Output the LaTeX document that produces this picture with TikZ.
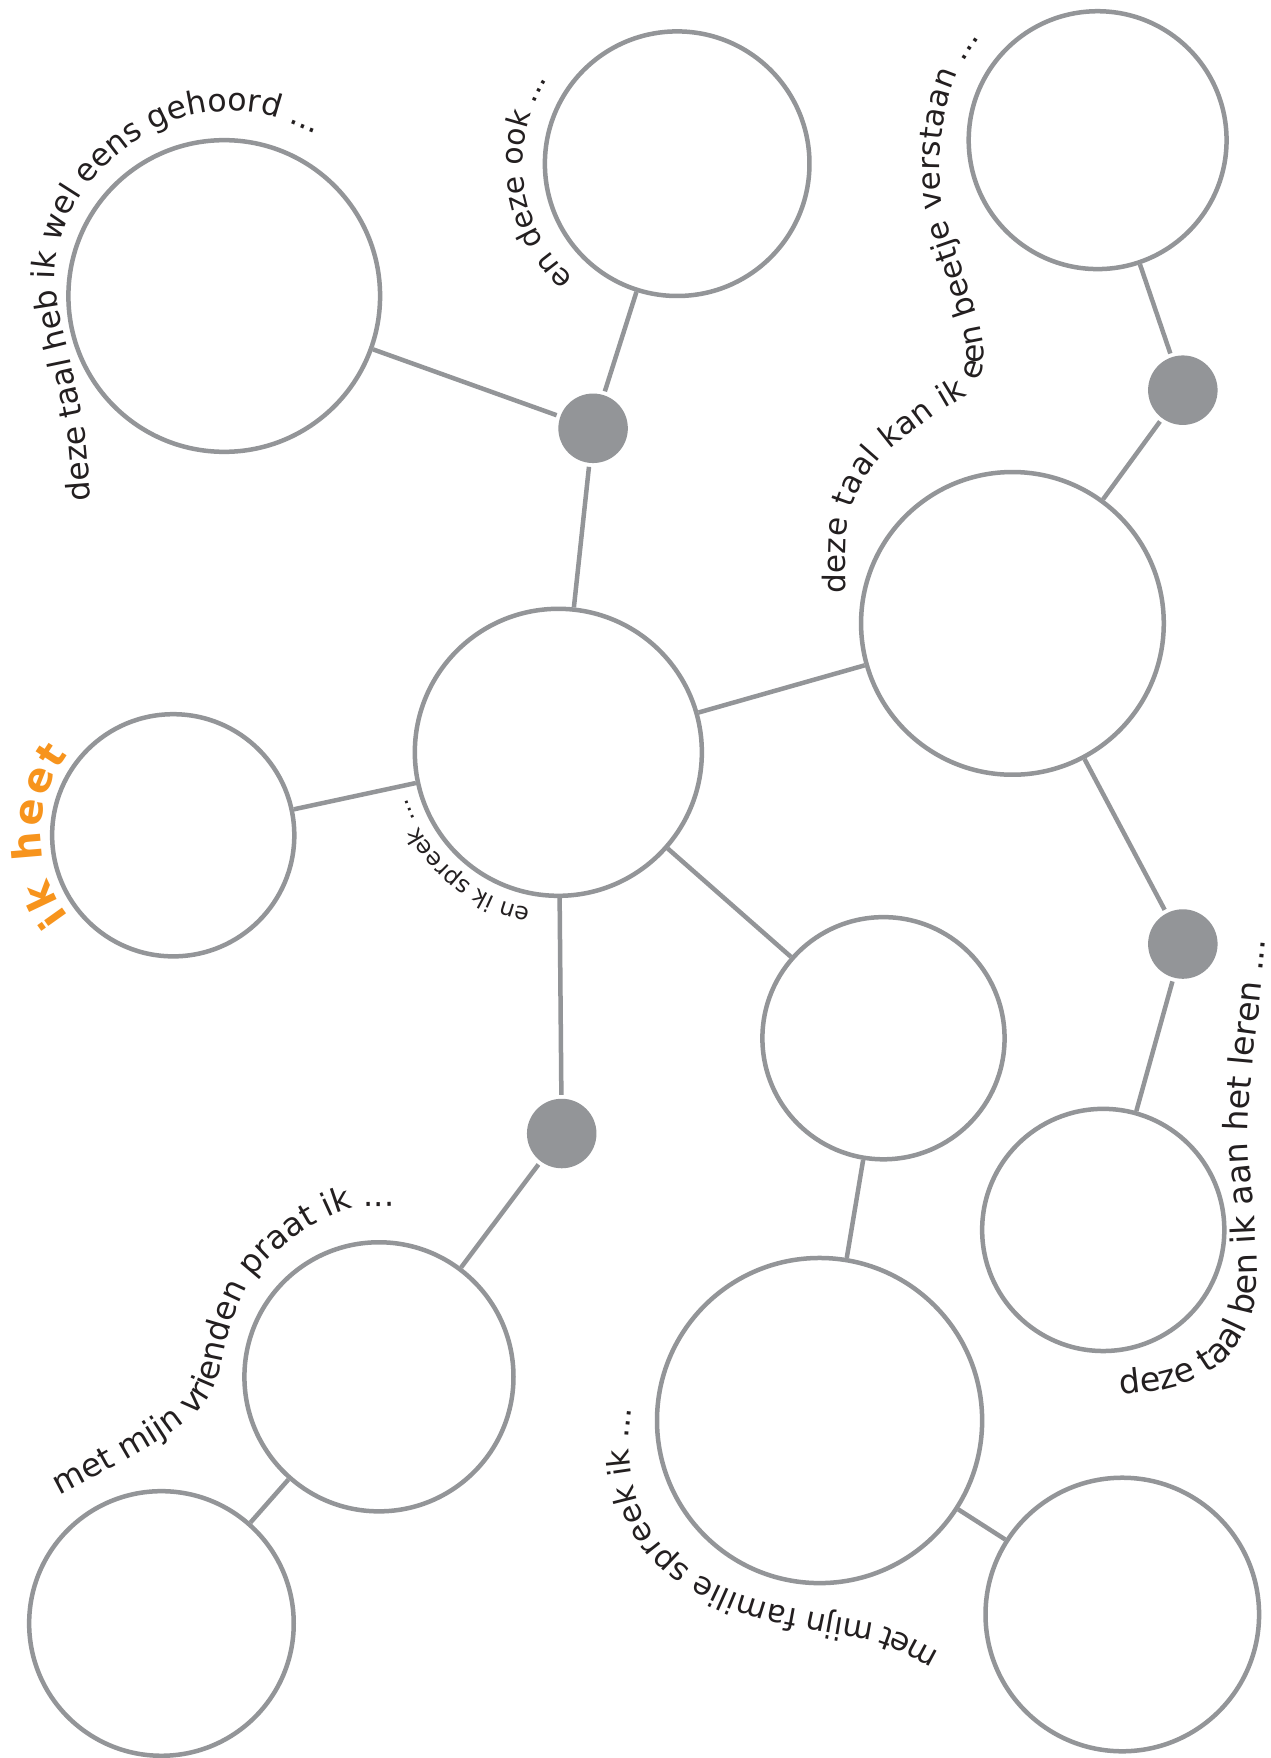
\documentclass[tikz,border=0pt]{standalone}
\usepackage{fontspec}
\setmainfont{DejaVu Sans}
\usetikzlibrary{decorations.text}
\definecolor{ringgray}{HTML}{939598}
\definecolor{txtcol}{HTML}{231F20}
\definecolor{ikorange}{HTML}{F7941D}
\newcommand\txtA{\fontsize{31.5}{31.5}\selectfont}
\newcommand\txtB{\fontsize{29.8}{29.8}\selectfont}
\newcommand\txtC{\fontsize{31}{31}\selectfont\kern0.45pt}
\newcommand\txtF{\fontsize{33.3}{33.3}\selectfont}
\newcommand\txtG{\fontsize{32.4}{32.4}\selectfont}
\newcommand\txtH{\fontsize{31.2}{31.2}\selectfont}
\newcommand\txtE{\fontsize{23.5}{23.5}\selectfont}
\newcommand\txtD{\fontsize{40}{40}\bfseries\selectfont\kern3pt}
\def\U{1.12092pt}
\begin{document}
\begin{tikzpicture}[x=1.12092pt, y=-1.12092pt,
  ring/.style={circle, draw=ringgray, line width=4.5pt, fill=white, inner sep=0pt},
  hub/.style={circle, fill=ringgray, inner sep=0pt, minimum size=62*\U, outer sep=4pt},
  link/.style={draw=ringgray, line width=4.5pt},
  curvedtext/.style={decorate, decoration={text along path, text color=txtcol, text={#1}}},
  orangetext/.style={decorate, decoration={text along path, text color=ikorange, text={#1}}}
]
\fill[white] (0,0) rectangle (1133,1568);
\useasboundingbox (0,0) rectangle (1133,1568);

% circles
\node[ring, minimum size=278*\U] (c1) at (200,264) {};
\node[ring, minimum size=236*\U] (c2) at (604,146) {};
\node[ring, minimum size=230*\U] (c3) at (979,125) {};
\node[ring, minimum size=270*\U] (c4) at (903,556) {};
\node[ring, minimum size=256*\U] (c5) at (498,671) {};
\node[ring, minimum size=216*\U] (c6) at (154.5,745) {};
\node[ring, minimum size=216*\U] (c7) at (788,926) {};
\node[ring, minimum size=216*\U] (c8) at (984,1097) {};
\node[ring, minimum size=240*\U] (c9) at (338,1228) {};
\node[ring, minimum size=236*\U] (c10) at (144,1448) {};
\node[ring, minimum size=290*\U] (c11) at (731,1267) {};
\node[ring, minimum size=244*\U] (c12) at (1001,1440) {};
% hubs
\node[hub] (da) at (529,382) {};
\node[hub] (db) at (1055,348) {};
\node[hub] (dc) at (1055,842) {};
\node[hub] (dd) at (501,1011) {};

% connectors
\foreach \a/\b in {da/c1, da/c2, da/c5, db/c3, db/c4, c4/c5, c4/dc, dc/c8, c5/c6, c5/c7, c5/dd, dd/c9, c9/c10, c7/c11, c11/c12}
  \draw[link] (\a) -- (\b);

% curved labels
\path[curvedtext={|\txtA|deze taal heb ik wel eens gehoord ...}]
  (81,446) .. controls (79,424) and (78.2,401.3) .. (75,380)
  .. controls (71.8,358.7) and (66.3,339.7) .. (62,318)
  .. controls (57.7,296.3) and (49,271) .. (49,250)
  .. controls (49,229) and (53.5,210) .. (62,192)
  .. controls (70.5,174) and (83.7,156.3) .. (100,142)
  .. controls (116.3,127.7) and (139.2,113) .. (160,106)
  .. controls (180.8,99) and (204.3,97.7) .. (225,100)
  .. controls (245.7,102.3) and (264.3,113.3) .. (284,120);

\path[curvedtext={|\txtB|en deze ook ...}]
  (604,146) ++(132:138) arc[start angle=132, end angle=213, radius=138];

\path[curvedtext={|\txtC|deze taal kan ik |\txtC\kern6pt|e|\txtC|en beetje verstaan ...}]
  (754,530) .. controls (755,507.3) and (752.3,481.7) .. (757,462)
  .. controls (761.7,442.3) and (769.8,426.8) .. (782,412)
  .. controls (794.2,397.2) and (815.3,384.5) .. (830,373)
  .. controls (844.7,361.5) and (860.5,356.2) .. (868,347)
  .. controls (875.5,337.8) and (878.5,321.8) .. (877,305)
  .. controls (875.5,288.2) and (864,260) .. (858,240)
  .. controls (852,220) and (843,200) .. (840,180)
  .. controls (837,160) and (838,138.3) .. (840,120)
  .. controls (842,101.7) and (846,85) .. (852,70)
  .. controls (858,55) and (868,43.3) .. (876,30);

\path[orangetext={|\txtD|ik heet}]
  (154.5,745) ++(141:118) arc[start angle=141, end angle=220, radius=118];

\path[curvedtext={|\txtE|en ik spreek ...}]
  (498,671) ++(100:141) arc[start angle=100, end angle=163, radius=141];

\path[curvedtext={|\txtF|deze taal ben ik aan het leren ...}]
  (999,1244) .. controls (1016,1241.3) and (1034,1241.7) .. (1050,1236)
  .. controls (1066,1230.3) and (1083.5,1222.7) .. (1095,1210)
  .. controls (1106.5,1197.3) and (1115,1180) .. (1119,1160)
  .. controls (1123,1140) and (1120,1113.3) .. (1119,1090)
  .. controls (1118,1066.7) and (1113.3,1043.3) .. (1113,1020)
  .. controls (1112.7,996.7) and (1115.2,970.8) .. (1117,950)
  .. controls (1118.8,929.2) and (1121.5,913.5) .. (1123.5,895)
  .. controls (1125.5,876.5) and (1127.2,857.7) .. (1129,839);

\path[curvedtext={|\txtG|met mijn vrienden praat ik ...}]
  (53.5,1334) .. controls (71.3,1324.3) and (89.25,1315.3) .. (107,1305)
  .. controls (124.75,1294.7) and (146.2,1282.8) .. (160,1272)
  .. controls (173.8,1261.2) and (182.5,1254.5) .. (190,1240)
  .. controls (197.5,1225.5) and (199.2,1201.7) .. (205,1185)
  .. controls (210.8,1168.3) and (215.5,1153.5) .. (225,1140)
  .. controls (234.5,1126.5) and (248,1114.2) .. (262,1104)
  .. controls (276,1093.8) and (294.2,1083.7) .. (309,1079)
  .. controls (323.8,1074.3) and (337,1077) .. (351,1076);

\path[curvedtext={|\txtH|met mijn familie spreek ik ...}]
  (838,1474) .. controls (822,1466.3) and (808,1456.8) .. (790,1451)
  .. controls (772,1445.2) and (750.8,1443.5) .. (730,1439)
  .. controls (709.2,1434.5) and (685.8,1431.8) .. (665,1424)
  .. controls (644.2,1416.2) and (620.3,1404.3) .. (605,1392)
  .. controls (589.7,1379.7) and (580.3,1366.2) .. (573,1350)
  .. controls (565.7,1333.8) and (562.5,1311.8) .. (561,1295)
  .. controls (559.5,1278.2) and (563,1264.3) .. (564,1249);

\end{tikzpicture}
\end{document}
